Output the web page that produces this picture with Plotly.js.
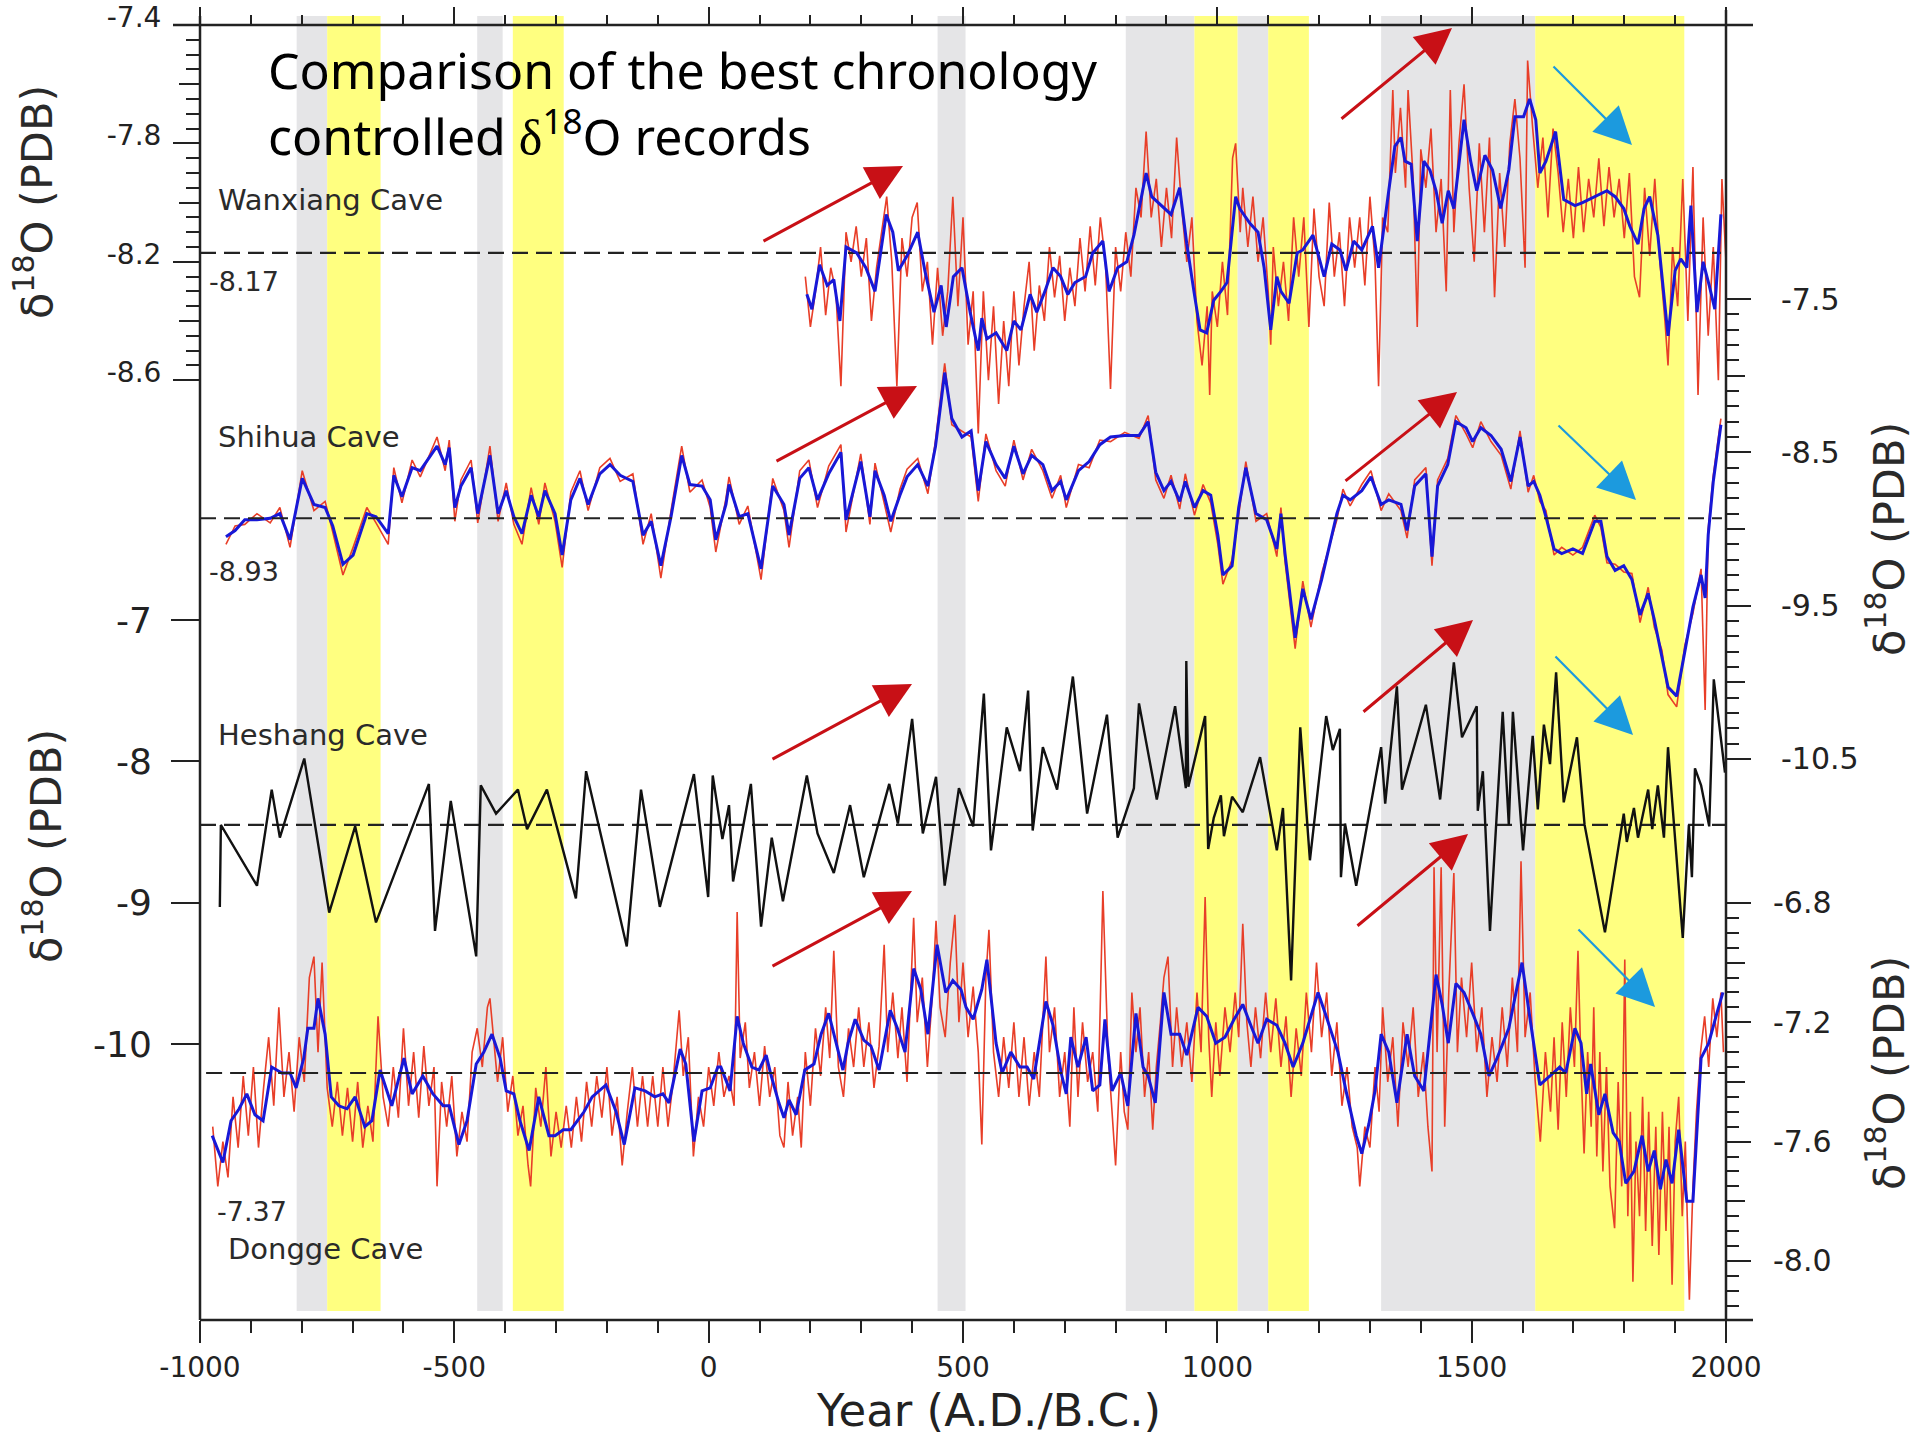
<!DOCTYPE html>
<html><head><meta charset="utf-8">
<script src="https://cdn.plot.ly/plotly-3.0.1.min.js"></script>
<style>html,body{margin:0;padding:0;background:#fff}</style>
</head><body><div id="chart" style="width:1920px;height:1440px"></div>
<script>
// ---------------- DATA ----------------
const xTickYears = [-1000,-500,0,500,1000,1500,2000];
const xTickText = ['-1000','-500','0','500','1000','1500','2000'];
const xMinorYears = [-900,-800,-700,-600,-400,-300,-200,-100,100,200,300,400,600,700,800,900,1100,1200,1300,1400,1600,1700,1800,1900];

const wanxiangTicks = [-7.4,-7.8,-8.2,-8.6];
const wanxiangMidTicks = [-7.6,-8.0,-8.4];
const wanxiangMinorTicks = [-7.45,-7.5,-7.55,-7.65,-7.7,-7.75,-7.85,-7.9,-7.95,-8.05,-8.1,-8.15,-8.25,-8.3,-8.35,-8.45,-8.5,-8.55];
const shihuaTicks = [-7.5,-8.5,-9.5,-10.5];
const shihuaMidTicks = [-8,-9,-10];
const shihuaMinorTicks = [-7.6,-7.7,-7.8,-7.9,-8.1,-8.2,-8.3,-8.4,-8.6,-8.7,-8.8,-8.9,-9.1,-9.2,-9.3,-9.4,-9.6,-9.7,-9.8,-9.9,-10.1,-10.2,-10.3,-10.4];
const heshangTicks = [-7,-8,-9,-10];
const donggeTicks = [-6.8,-7.2,-7.6,-8.0];
const donggeTickText = ['-6.8','-7.2','-7.6','-8.0'];
const donggeMidTicks = [-7.0,-7.4,-7.8];
const donggeMinorTicks = [-6.85,-6.9,-6.95,-7.05,-7.1,-7.15,-7.25,-7.3,-7.35,-7.45,-7.5,-7.55,-7.65,-7.7,-7.75,-7.85,-7.9,-7.95,-8.05,-8.1,-8.15];

// shaded periods [start year, end year, kind]
const bandPeriods = [[-810,-750,'g'],[-750,-645,'y'],[-455,-405,'g'],[-385,-285,'y'],[450,505,'g'],
  [820,955,'g'],[955,1040,'y'],[1040,1100,'g'],[1100,1180,'y'],[1322,1625,'g'],[1625,1918,'y']];

const wanxiangMean = -8.17, shihuaMean = -8.93, heshangMean = -8.45, donggeMean = -7.37;
const wanxiangMeanSpan = [-1000,1990], shihuaMeanSpan = [-1000,1992], heshangMeanSpan = [-1000,2000], donggeMeanSpan = [-988,2000];

const wanxiangBlue = [[193,-8.31],[203,-8.36],[218,-8.21],[233,-8.28],[246,-8.26],[258,-8.40],[270,-8.15],[291,-8.17],[309,-8.22],[327,-8.30],[349,-8.04],[362,-8.10],[373,-8.23],[390,-8.18],[411,-8.10],[425,-8.23],[443,-8.37],[457,-8.28],[467,-8.42],[481,-8.25],[498,-8.22],[514,-8.37],[530,-8.50],[537,-8.39],[547,-8.46],[565,-8.44],[586,-8.50],[600,-8.40],[614,-8.43],[632,-8.31],[645,-8.37],[661,-8.30],[677,-8.22],[692,-8.25],[706,-8.31],[720,-8.27],[741,-8.25],[755,-8.17],[775,-8.13],[787,-8.30],[804,-8.22],[822,-8.20],[836,-8.11],[850,-7.98],[860,-7.90],[871,-7.98],[889,-8.01],[909,-8.04],[926,-7.95],[940,-8.14],[954,-8.30],[966,-8.43],[979,-8.44],[993,-8.33],[1007,-8.30],[1019,-8.27],[1036,-7.98],[1044,-8.02],[1064,-8.07],[1080,-8.10],[1092,-8.22],[1105,-8.43],[1117,-8.25],[1125,-8.30],[1141,-8.34],[1157,-8.17],[1168,-8.16],[1188,-8.11],[1210,-8.25],[1225,-8.14],[1241,-8.16],[1253,-8.23],[1268,-8.13],[1284,-8.16],[1305,-8.08],[1317,-8.22],[1337,-7.96],[1349,-7.81],[1361,-7.78],[1369,-7.86],[1381,-7.87],[1393,-8.13],[1406,-7.86],[1418,-7.89],[1430,-7.96],[1442,-8.07],[1454,-7.96],[1465,-8.02],[1485,-7.72],[1498,-7.86],[1510,-7.96],[1526,-7.84],[1541,-7.89],[1557,-8.02],[1573,-7.89],[1585,-7.71],[1602,-7.71],[1614,-7.65],[1626,-7.72],[1634,-7.90],[1646,-7.86],[1665,-7.76],[1681,-7.99],[1703,-8.01],[1718,-8.00],[1742,-7.98],[1766,-7.96],[1782,-7.98],[1799,-8.02],[1811,-8.08],[1827,-8.14],[1839,-8.02],[1850,-7.98],[1866,-8.11],[1886,-8.45],[1900,-8.23],[1911,-8.19],[1923,-8.22],[1931,-8.01],[1943,-8.37],[1955,-8.20],[1967,-8.28],[1978,-8.36],[1990,-8.04]];

const wanxiangRed = [[190,-8.25],[200,-8.42],[210,-8.30],[220,-8.15],[230,-8.38],[240,-8.22],[250,-8.30],[260,-8.62],[270,-8.10],[280,-8.20],[290,-8.08],[300,-8.25],[310,-8.12],[320,-8.40],[330,-8.22],[340,-8.10],[350,-7.98],[360,-8.20],[370,-8.62],[380,-8.12],[390,-8.25],[400,-8.05],[410,-8.00],[420,-8.30],[430,-8.20],[440,-8.48],[450,-8.22],[460,-8.45],[470,-8.30],[480,-7.98],[490,-8.35],[500,-8.05],[510,-8.48],[520,-8.30],[530,-8.78],[540,-8.30],[550,-8.60],[560,-8.35],[570,-8.68],[580,-8.40],[590,-8.62],[600,-8.30],[610,-8.55],[620,-8.35],[630,-8.20],[640,-8.50],[650,-8.28],[660,-8.40],[670,-8.15],[680,-8.32],[690,-8.18],[700,-8.40],[710,-8.22],[720,-8.35],[730,-8.12],[740,-8.30],[750,-8.08],[760,-8.28],[770,-8.05],[780,-8.20],[790,-8.63],[800,-8.15],[810,-8.30],[820,-8.10],[830,-8.25],[840,-7.95],[850,-8.05],[860,-7.76],[870,-8.05],[880,-7.92],[890,-8.15],[900,-7.95],[910,-8.12],[920,-7.78],[930,-8.02],[940,-8.20],[950,-8.05],[960,-8.40],[970,-8.55],[980,-8.35],[985,-8.65],[990,-8.30],[1000,-8.42],[1010,-8.20],[1020,-8.38],[1030,-7.85],[1036,-7.80],[1045,-8.10],[1050,-7.95],[1060,-8.15],[1070,-7.98],[1080,-8.20],[1090,-8.05],[1100,-8.30],[1105,-8.48],[1110,-8.15],[1120,-8.35],[1130,-8.20],[1140,-8.40],[1150,-8.05],[1160,-8.25],[1170,-8.05],[1180,-8.42],[1190,-8.02],[1200,-8.25],[1210,-8.35],[1220,-8.00],[1230,-8.25],[1240,-8.10],[1250,-8.35],[1260,-8.05],[1270,-8.22],[1280,-8.05],[1290,-8.28],[1300,-7.98],[1310,-8.20],[1317,-8.62],[1325,-8.05],[1335,-8.10],[1345,-7.62],[1350,-7.90],[1360,-7.68],[1370,-7.95],[1375,-7.62],[1385,-7.92],[1393,-8.42],[1400,-7.82],[1410,-7.95],[1420,-7.75],[1430,-8.10],[1440,-7.92],[1450,-8.30],[1458,-7.62],[1465,-8.10],[1475,-7.80],[1485,-7.60],[1495,-7.95],[1505,-8.20],[1515,-7.80],[1525,-8.10],[1535,-7.78],[1545,-8.32],[1555,-7.90],[1565,-8.15],[1575,-7.80],[1585,-7.65],[1595,-7.85],[1605,-8.22],[1610,-7.52],[1620,-7.75],[1630,-7.95],[1640,-7.78],[1650,-8.05],[1660,-7.75],[1670,-7.90],[1680,-8.10],[1690,-7.92],[1700,-8.12],[1710,-7.88],[1720,-8.10],[1730,-7.92],[1740,-8.05],[1750,-7.85],[1760,-8.08],[1770,-7.88],[1780,-8.05],[1790,-7.92],[1800,-8.12],[1810,-7.90],[1820,-8.25],[1830,-8.32],[1840,-7.95],[1850,-8.18],[1860,-7.92],[1870,-8.20],[1880,-8.40],[1886,-8.55],[1895,-8.15],[1905,-8.35],[1915,-7.92],[1925,-8.40],[1935,-7.88],[1945,-8.65],[1955,-8.05],[1965,-8.45],[1975,-8.15],[1985,-8.60],[1992,-7.92],[2000,-8.20]];

const shihuaBlue = [[-949,-9.05],[-931,-9.01],[-912,-8.94],[-888,-8.94],[-862,-8.93],[-843,-8.90],[-823,-9.07],[-799,-8.67],[-776,-8.84],[-754,-8.86],[-739,-8.98],[-719,-9.23],[-699,-9.17],[-672,-8.90],[-654,-8.92],[-630,-9.03],[-619,-8.65],[-603,-8.79],[-583,-8.60],[-567,-8.62],[-534,-8.46],[-518,-8.58],[-510,-8.47],[-499,-8.86],[-487,-8.72],[-467,-8.60],[-454,-8.90],[-430,-8.52],[-414,-8.90],[-398,-8.75],[-383,-8.92],[-367,-9.03],[-349,-8.78],[-334,-8.92],[-322,-8.75],[-302,-8.90],[-288,-9.17],[-271,-8.81],[-253,-8.67],[-237,-8.84],[-214,-8.64],[-194,-8.58],[-174,-8.65],[-149,-8.69],[-129,-9.04],[-113,-8.95],[-94,-9.24],[-74,-8.92],[-53,-8.52],[-37,-8.71],[-13,-8.72],[3,-8.81],[14,-9.07],[34,-8.84],[40,-8.71],[60,-8.92],[77,-8.90],[103,-9.26],[126,-8.72],[148,-8.84],[158,-9.04],[179,-8.67],[197,-8.60],[214,-8.81],[236,-8.64],[260,-8.50],[270,-8.94],[299,-8.56],[317,-8.92],[327,-8.62],[345,-8.78],[358,-8.95],[376,-8.78],[390,-8.66],[411,-8.58],[431,-8.72],[446,-8.46],[464,-7.98],[478,-8.28],[498,-8.40],[516,-8.36],[530,-8.75],[545,-8.43],[565,-8.58],[583,-8.67],[600,-8.46],[618,-8.64],[635,-8.52],[657,-8.58],[675,-8.75],[692,-8.69],[703,-8.81],[727,-8.62],[748,-8.56],[769,-8.45],[790,-8.40],[818,-8.39],[846,-8.39],[864,-8.30],[879,-8.63],[895,-8.75],[909,-8.69],[926,-8.82],[937,-8.69],[955,-8.86],[972,-8.75],[987,-8.78],[1001,-9.04],[1011,-9.30],[1029,-9.24],[1042,-8.86],[1056,-8.60],[1070,-8.81],[1076,-8.90],[1097,-8.94],[1117,-9.13],[1125,-8.90],[1133,-9.16],[1153,-9.71],[1168,-9.39],[1184,-9.59],[1205,-9.33],[1235,-8.90],[1247,-8.78],[1261,-8.81],[1284,-8.75],[1302,-8.66],[1322,-8.84],[1337,-8.81],[1361,-8.84],[1373,-9.01],[1388,-8.72],[1410,-8.64],[1422,-9.18],[1433,-8.72],[1453,-8.58],[1469,-8.30],[1489,-8.34],[1502,-8.43],[1518,-8.34],[1538,-8.39],[1558,-8.48],[1577,-8.69],[1595,-8.40],[1611,-8.72],[1622,-8.69],[1634,-8.78],[1646,-8.92],[1662,-9.13],[1677,-9.16],[1699,-9.13],[1718,-9.16],[1742,-8.95],[1754,-8.95],[1766,-9.18],[1782,-9.27],[1799,-9.24],[1815,-9.33],[1831,-9.56],[1847,-9.42],[1859,-9.59],[1874,-9.83],[1886,-10.03],[1903,-10.09],[1919,-9.80],[1935,-9.51],[1951,-9.30],[1959,-9.45],[1965,-9.04],[1975,-8.69],[1990,-8.32]];

const shihuaRed = [[-949,-9.10],[-931,-8.98],[-912,-8.97],[-888,-8.90],[-862,-8.96],[-843,-8.86],[-823,-9.12],[-799,-8.62],[-776,-8.88],[-754,-8.82],[-739,-9.02],[-719,-9.30],[-699,-9.12],[-672,-8.86],[-654,-8.96],[-630,-9.10],[-619,-8.60],[-603,-8.83],[-583,-8.55],[-567,-8.66],[-534,-8.40],[-518,-8.62],[-510,-8.42],[-499,-8.95],[-487,-8.68],[-467,-8.55],[-454,-8.96],[-430,-8.46],[-414,-8.95],[-398,-8.70],[-383,-8.97],[-367,-9.10],[-349,-8.73],[-334,-8.97],[-322,-8.70],[-302,-8.95],[-288,-9.25],[-271,-8.76],[-253,-8.62],[-237,-8.88],[-214,-8.60],[-194,-8.54],[-174,-8.69],[-149,-8.64],[-129,-9.10],[-113,-8.90],[-94,-9.32],[-74,-8.88],[-53,-8.46],[-37,-8.76],[-13,-8.68],[3,-8.86],[14,-9.15],[34,-8.80],[40,-8.66],[60,-8.97],[77,-8.85],[103,-9.33],[126,-8.67],[148,-8.88],[158,-9.12],[179,-8.62],[197,-8.55],[214,-8.86],[236,-8.59],[260,-8.45],[270,-9.02],[299,-8.51],[317,-8.97],[327,-8.57],[345,-8.83],[358,-9.02],[376,-8.74],[390,-8.61],[411,-8.54],[431,-8.77],[446,-8.42],[464,-7.92],[478,-8.32],[498,-8.36],[516,-8.40],[530,-8.82],[545,-8.38],[565,-8.62],[583,-8.72],[600,-8.42],[618,-8.68],[635,-8.48],[657,-8.62],[675,-8.80],[692,-8.65],[703,-8.86],[727,-8.58],[748,-8.60],[769,-8.42],[790,-8.43],[818,-8.37],[846,-8.41],[864,-8.26],[879,-8.68],[895,-8.80],[909,-8.65],[926,-8.87],[937,-8.64],[955,-8.91],[972,-8.71],[987,-8.83],[1001,-9.10],[1011,-9.36],[1029,-9.20],[1042,-8.91],[1056,-8.56],[1070,-8.85],[1076,-8.95],[1097,-8.90],[1117,-9.18],[1125,-8.86],[1133,-9.21],[1153,-9.78],[1168,-9.34],[1184,-9.64],[1205,-9.29],[1235,-8.94],[1247,-8.74],[1261,-8.85],[1284,-8.71],[1302,-8.62],[1322,-8.88],[1337,-8.77],[1361,-8.88],[1373,-9.06],[1388,-8.68],[1410,-8.60],[1422,-9.24],[1433,-8.68],[1453,-8.54],[1469,-8.26],[1489,-8.38],[1502,-8.47],[1518,-8.30],[1538,-8.43],[1558,-8.52],[1577,-8.74],[1595,-8.36],[1611,-8.76],[1622,-8.65],[1634,-8.82],[1646,-8.88],[1662,-9.17],[1677,-9.12],[1699,-9.17],[1718,-9.12],[1742,-8.91],[1754,-8.99],[1766,-9.22],[1782,-9.23],[1799,-9.28],[1815,-9.29],[1831,-9.61],[1847,-9.38],[1859,-9.64],[1874,-9.79],[1886,-10.08],[1903,-10.16],[1919,-9.76],[1935,-9.55],[1951,-9.26],[1959,-10.18],[1965,-9.00],[1975,-8.65],[1990,-8.28]];

const heshang = [[-961,-9.03],[-959,-8.45],[-888,-8.88],[-859,-8.20],[-843,-8.54],[-795,-7.98],[-746,-9.07],[-695,-8.46],[-654,-9.14],[-550,-8.16],[-538,-9.20],[-507,-8.28],[-457,-9.38],[-448,-8.17],[-418,-8.37],[-375,-8.20],[-357,-8.48],[-318,-8.20],[-261,-8.97],[-241,-8.07],[-161,-9.31],[-133,-8.20],[-96,-9.03],[-29,-8.09],[-1,-8.96],[8,-8.10],[27,-8.55],[40,-8.31],[48,-8.85],[83,-8.16],[103,-9.17],[124,-8.54],[146,-8.99],[193,-8.10],[214,-8.51],[246,-8.79],[278,-8.31],[305,-8.82],[355,-8.16],[372,-8.44],[400,-7.70],[421,-8.51],[447,-8.11],[464,-8.88],[492,-8.19],[520,-8.46],[541,-7.52],[555,-8.63],[586,-7.76],[612,-8.07],[628,-7.50],[637,-8.49],[657,-7.90],[685,-8.20],[716,-7.40],[744,-8.37],[783,-7.67],[804,-8.54],[836,-8.19],[846,-7.59],[881,-8.27],[917,-7.61],[938,-8.19],[939,-7.29],[943,-8.18],[976,-7.68],[982,-8.62],[993,-8.40],[1007,-8.24],[1013,-8.53],[1029,-8.25],[1050,-8.36],[1084,-7.97],[1117,-8.63],[1129,-8.33],[1145,-9.55],[1163,-7.76],[1182,-8.70],[1214,-7.68],[1227,-7.92],[1241,-7.77],[1243,-8.82],[1251,-8.44],[1273,-8.88],[1322,-7.90],[1330,-8.30],[1353,-7.47],[1363,-8.20],[1410,-7.60],[1438,-8.27],[1465,-7.30],[1481,-7.83],[1510,-7.61],[1512,-8.35],[1522,-8.07],[1536,-9.20],[1561,-7.65],[1573,-8.45],[1581,-7.65],[1601,-8.63],[1620,-7.82],[1630,-8.34],[1642,-7.74],[1654,-8.02],[1666,-7.37],[1681,-8.29],[1707,-7.83],[1722,-8.45],[1762,-9.21],[1799,-8.37],[1805,-8.57],[1819,-8.33],[1827,-8.54],[1847,-8.20],[1855,-8.48],[1866,-8.17],[1878,-8.54],[1886,-7.90],[1915,-9.25],[1927,-8.45],[1933,-8.82],[1939,-8.05],[1951,-8.17],[1967,-8.46],[1976,-7.42],[1998,-8.08]];

const donggeBlue = [[-976,-7.58],[-963,-7.64],[-955,-7.67],[-939,-7.53],[-923,-7.49],[-908,-7.44],[-892,-7.51],[-876,-7.53],[-859,-7.35],[-839,-7.37],[-823,-7.37],[-811,-7.42],[-796,-7.32],[-788,-7.22],[-776,-7.22],[-768,-7.12],[-754,-7.24],[-742,-7.45],[-727,-7.48],[-711,-7.49],[-695,-7.45],[-676,-7.55],[-662,-7.53],[-646,-7.36],[-623,-7.48],[-599,-7.32],[-583,-7.44],[-562,-7.38],[-542,-7.44],[-522,-7.48],[-510,-7.48],[-491,-7.61],[-475,-7.53],[-457,-7.34],[-442,-7.30],[-426,-7.24],[-410,-7.32],[-398,-7.43],[-383,-7.44],[-371,-7.53],[-353,-7.63],[-334,-7.45],[-314,-7.58],[-302,-7.58],[-286,-7.56],[-271,-7.56],[-245,-7.50],[-229,-7.45],[-202,-7.41],[-182,-7.50],[-166,-7.61],[-145,-7.42],[-125,-7.43],[-106,-7.45],[-90,-7.44],[-78,-7.47],[-56,-7.29],[-45,-7.34],[-29,-7.60],[-13,-7.43],[3,-7.42],[18,-7.35],[24,-7.35],[42,-7.43],[56,-7.18],[68,-7.27],[85,-7.35],[99,-7.36],[113,-7.31],[123,-7.38],[138,-7.47],[148,-7.52],[158,-7.46],[172,-7.51],[189,-7.36],[207,-7.34],[221,-7.24],[236,-7.17],[246,-7.24],[264,-7.36],[274,-7.27],[288,-7.19],[305,-7.26],[319,-7.28],[335,-7.36],[348,-7.24],[357,-7.16],[371,-7.22],[386,-7.30],[403,-7.02],[417,-7.09],[431,-7.24],[449,-6.94],[466,-7.10],[480,-7.06],[496,-7.09],[506,-7.15],[520,-7.19],[537,-7.09],[547,-6.99],[565,-7.27],[577,-7.37],[594,-7.30],[612,-7.35],[626,-7.35],[639,-7.39],[663,-7.13],[677,-7.21],[693,-7.37],[703,-7.44],[712,-7.25],[726,-7.35],[742,-7.25],[755,-7.43],[769,-7.41],[779,-7.19],[793,-7.43],[810,-7.37],[824,-7.48],[840,-7.17],[854,-7.35],[864,-7.38],[878,-7.47],[895,-7.10],[909,-7.24],[926,-7.24],[940,-7.31],[962,-7.15],[979,-7.18],[997,-7.27],[1015,-7.25],[1033,-7.19],[1050,-7.14],[1068,-7.22],[1080,-7.27],[1097,-7.19],[1117,-7.21],[1133,-7.27],[1149,-7.35],[1168,-7.27],[1184,-7.18],[1198,-7.10],[1214,-7.18],[1225,-7.24],[1237,-7.30],[1253,-7.43],[1273,-7.58],[1284,-7.64],[1298,-7.54],[1310,-7.43],[1322,-7.24],[1337,-7.30],[1353,-7.47],[1373,-7.24],[1388,-7.38],[1406,-7.43],[1430,-7.04],[1442,-7.14],[1454,-7.27],[1469,-7.07],[1485,-7.10],[1502,-7.17],[1518,-7.24],[1534,-7.38],[1550,-7.32],[1573,-7.22],[1599,-7.00],[1614,-7.18],[1634,-7.41],[1654,-7.38],[1673,-7.35],[1685,-7.37],[1703,-7.22],[1715,-7.27],[1726,-7.44],[1734,-7.34],[1750,-7.51],[1762,-7.44],[1778,-7.57],[1790,-7.60],[1803,-7.74],[1819,-7.70],[1835,-7.58],[1847,-7.70],[1859,-7.63],[1871,-7.76],[1882,-7.66],[1894,-7.74],[1907,-7.56],[1923,-7.80],[1935,-7.80],[1951,-7.32],[1966,-7.27],[1982,-7.17],[1994,-7.10]];

const donggeRed = [[-975,-7.55],[-965,-7.75],[-955,-7.60],[-945,-7.72],[-935,-7.45],[-925,-7.62],[-915,-7.38],[-905,-7.58],[-895,-7.35],[-885,-7.62],[-875,-7.42],[-865,-7.25],[-855,-7.48],[-845,-7.15],[-835,-7.45],[-825,-7.30],[-815,-7.50],[-805,-7.25],[-795,-7.40],[-785,-7.05],[-776,-6.98],[-768,-7.30],[-760,-7.00],[-750,-7.42],[-740,-7.55],[-730,-7.40],[-720,-7.58],[-710,-7.42],[-700,-7.60],[-690,-7.40],[-680,-7.62],[-670,-7.48],[-660,-7.60],[-650,-7.18],[-640,-7.45],[-630,-7.55],[-620,-7.35],[-610,-7.52],[-600,-7.22],[-590,-7.48],[-580,-7.30],[-570,-7.52],[-560,-7.28],[-550,-7.48],[-540,-7.35],[-534,-7.75],[-525,-7.40],[-515,-7.55],[-505,-7.38],[-495,-7.65],[-485,-7.50],[-475,-7.60],[-465,-7.30],[-455,-7.22],[-445,-7.35],[-435,-7.15],[-430,-7.12],[-415,-7.40],[-405,-7.25],[-395,-7.50],[-385,-7.38],[-375,-7.58],[-365,-7.48],[-355,-7.68],[-350,-7.75],[-340,-7.42],[-330,-7.55],[-320,-7.35],[-310,-7.65],[-300,-7.50],[-290,-7.62],[-280,-7.48],[-270,-7.62],[-260,-7.45],[-250,-7.60],[-240,-7.40],[-230,-7.55],[-220,-7.38],[-210,-7.52],[-200,-7.35],[-190,-7.58],[-180,-7.45],[-170,-7.68],[-160,-7.50],[-150,-7.35],[-140,-7.55],[-130,-7.38],[-120,-7.55],[-110,-7.38],[-100,-7.55],[-90,-7.35],[-80,-7.55],[-70,-7.40],[-58,-7.16],[-50,-7.38],[-40,-7.25],[-30,-7.65],[-20,-7.45],[-10,-7.55],[0,-7.35],[10,-7.48],[20,-7.30],[30,-7.45],[40,-7.38],[50,-7.48],[56,-6.83],[62,-7.32],[72,-7.20],[80,-7.42],[90,-7.30],[100,-7.48],[110,-7.28],[120,-7.45],[130,-7.35],[140,-7.58],[148,-7.62],[156,-7.40],[165,-7.58],[175,-7.45],[182,-7.62],[190,-7.30],[200,-7.48],[210,-7.22],[220,-7.38],[230,-7.15],[238,-7.32],[246,-6.96],[255,-7.35],[265,-7.45],[275,-7.22],[285,-7.35],[295,-7.15],[305,-7.35],[315,-7.20],[325,-7.42],[335,-7.28],[345,-6.94],[352,-7.30],[362,-7.10],[372,-7.32],[380,-7.15],[390,-7.40],[403,-6.85],[410,-7.20],[420,-7.05],[430,-7.35],[440,-7.10],[447,-6.86],[455,-7.15],[465,-7.25],[475,-7.00],[484,-6.84],[492,-7.20],[500,-7.00],[510,-7.25],[520,-7.08],[530,-7.30],[537,-7.61],[545,-7.05],[551,-6.89],[560,-7.30],[570,-7.45],[580,-7.25],[590,-7.42],[600,-7.20],[610,-7.45],[620,-7.25],[630,-7.48],[640,-7.30],[650,-7.45],[663,-6.98],[670,-7.30],[680,-7.15],[690,-7.45],[700,-7.30],[710,-7.55],[718,-7.15],[726,-7.45],[735,-7.20],[745,-7.40],[755,-7.30],[765,-7.50],[775,-6.76],[785,-7.30],[793,-7.50],[800,-7.68],[810,-7.30],[817,-7.50],[824,-7.56],[832,-7.10],[840,-7.30],[848,-7.15],[857,-7.45],[865,-7.30],[873,-7.56],[880,-7.35],[888,-7.20],[895,-7.05],[903,-6.98],[912,-7.35],[920,-7.15],[930,-7.35],[940,-7.20],[950,-7.40],[960,-7.10],[968,-7.30],[976,-6.78],[983,-7.25],[989,-7.45],[997,-7.20],[1005,-7.38],[1015,-7.15],[1025,-7.30],[1035,-7.10],[1042,-7.25],[1050,-6.87],[1058,-7.20],[1066,-7.35],[1075,-7.15],[1085,-7.32],[1095,-7.10],[1105,-7.30],[1115,-7.12],[1125,-7.35],[1135,-7.18],[1145,-7.45],[1155,-7.22],[1165,-7.38],[1175,-7.10],[1185,-7.30],[1195,-7.00],[1205,-7.25],[1215,-7.10],[1225,-7.38],[1235,-7.20],[1245,-7.48],[1255,-7.35],[1265,-7.55],[1275,-7.62],[1280,-7.75],[1290,-7.55],[1300,-7.62],[1310,-7.35],[1318,-7.50],[1325,-7.15],[1335,-7.40],[1345,-7.25],[1355,-7.55],[1365,-7.20],[1375,-7.35],[1385,-7.15],[1395,-7.45],[1405,-7.30],[1414,-7.55],[1422,-7.70],[1426,-6.68],[1432,-7.30],[1440,-6.68],[1447,-7.55],[1455,-7.10],[1465,-6.70],[1472,-7.30],[1480,-7.05],[1490,-7.25],[1500,-7.00],[1510,-7.30],[1520,-7.15],[1530,-7.45],[1540,-7.25],[1550,-7.40],[1560,-7.15],[1570,-7.35],[1580,-7.05],[1590,-7.30],[1597,-6.66],[1605,-7.25],[1615,-7.10],[1625,-7.40],[1635,-7.60],[1645,-7.30],[1655,-7.50],[1662,-7.25],[1670,-7.56],[1678,-7.20],[1686,-7.45],[1694,-7.15],[1702,-7.35],[1709,-6.96],[1715,-7.35],[1721,-7.64],[1728,-7.30],[1735,-7.55],[1740,-7.15],[1746,-7.65],[1752,-7.30],[1758,-7.70],[1765,-7.35],[1772,-7.75],[1781,-7.89],[1788,-7.40],[1795,-7.75],[1801,-6.99],[1807,-7.85],[1812,-7.50],[1817,-8.07],[1823,-7.60],[1830,-7.85],[1836,-7.45],[1842,-7.90],[1848,-7.50],[1855,-7.95],[1862,-7.55],[1868,-7.98],[1875,-7.50],[1882,-7.90],[1888,-7.55],[1894,-8.08],[1900,-7.60],[1907,-7.45],[1914,-7.85],[1920,-7.60],[1928,-8.13],[1935,-7.75],[1942,-7.50],[1950,-7.30],[1958,-7.18],[1966,-7.35],[1974,-7.12],[1982,-7.25],[1990,-7.10],[1995,-7.30]];

// ---------------- DRAWING ----------------
const L = 200, R = 1726, T = 25, B = 1320;            // plot frame in page pixels
const px = x => (x - L) / (R - L);
const py = y => (B - y) / (B - T);
const xs = a => a.map(p => p[0]);
const ys = a => a.map(p => p[1]);

const RED = 'rgb(232,62,40)', BLUE = 'rgb(24,24,215)', DASH = '#222';
const tickFont = {family:'DejaVu Sans', size:28, color:'#222'};

function meanTrace(span, mean, yaxis){
  return {type:'scatter', mode:'lines', x: span, y:[mean, mean], yaxis: yaxis,
    line:{color:DASH, width:2.2, dash:'16px,8px'}, hoverinfo:'skip'};
}
const traces = [
  meanTrace(wanxiangMeanSpan, wanxiangMean, 'y5'),
  meanTrace(shihuaMeanSpan, shihuaMean, 'y6'),
  meanTrace(heshangMeanSpan, heshangMean, 'y3'),
  meanTrace(donggeMeanSpan, donggeMean, 'y7'),
  {type:'scatter', mode:'lines', x:xs(wanxiangRed), y:ys(wanxiangRed), yaxis:'y', line:{color:RED, width:1.6}},
  {type:'scatter', mode:'lines', x:xs(wanxiangBlue), y:ys(wanxiangBlue), xaxis:'x2', yaxis:'y', line:{color:BLUE, width:3}},
  {type:'scatter', mode:'lines', x:xs(shihuaRed), y:ys(shihuaRed), yaxis:'y2', line:{color:RED, width:1.6}},
  {type:'scatter', mode:'lines', x:xs(shihuaBlue), y:ys(shihuaBlue), yaxis:'y2', line:{color:BLUE, width:3}},
  {type:'scatter', mode:'lines', x:xs(heshang), y:ys(heshang), yaxis:'y3', line:{color:'#111', width:2.4}},
  {type:'scatter', mode:'lines', x:xs(donggeRed), y:ys(donggeRed), yaxis:'y4', line:{color:RED, width:1.6}},
  {type:'scatter', mode:'lines', x:xs(donggeBlue), y:ys(donggeBlue), yaxis:'y4', line:{color:BLUE, width:3}}
];

function yAxis(o){
  return Object.assign({anchor:'x', showgrid:false, zeroline:false, showline:false, fixedrange:true, ticklabeloverflow:'allow',
    ticks:'outside', tickwidth:2, tickcolor:'#222', tickmode:'array', tickfont:tickFont}, o);
}
const minorOf = (vals, len) => ({tickmode:'array', tickvals:vals, ticks:'outside', ticklen:len, tickwidth:2, tickcolor:'#222', showgrid:false});

const shapes = bandPeriods.map(b => ({type:'rect', xref:'x', yref:'paper', x0:b[0], x1:b[1], y0:py(1311), y1:py(16),
  fillcolor: b[2]==='g' ? 'rgb(229,229,231)' : 'rgb(255,255,128)', line:{width:0}, layer:'below'}));
// frame lines (extending slightly past the corners as in the original)
const frameLine = (x0,y0,x1,y1) => ({type:'line', xref:'paper', yref:'paper', x0:px(x0), y0:py(y0), x1:px(x1), y1:py(y1), line:{color:'#222', width:2.5}, layer:'above'});
shapes.push(frameLine(173, T, 1753, T));
shapes.push(frameLine(L, B, 1753, B));
shapes.push(frameLine(L, 16, L, B));
shapes.push(frameLine(R, 10, R, B));

const annotations = [];
function label(text, x, y, size, opts){
  annotations.push(Object.assign({text:text, xref:'paper', yref:'paper', x:px(x), y:py(y), xanchor:'left', yanchor:'middle',
    showarrow:false, font:{family:'DejaVu Sans', size:size, color:'#2a2a2a'}}, opts||{}));
}
label('Wanxiang Cave', 216, 200, 29);
label('-8.17', 207, 281, 27);
label('Shihua Cave', 216, 437, 29);
label('-8.93', 207, 571, 27);
label('Heshang Cave', 216, 735, 29);
label('-7.37', 215, 1211, 27);
label('Dongge Cave', 226, 1249, 29);
const titleFont = {family:'Noto Sans', size:50, color:'#000'};
label('Comparison of the best chronology', 266, 70, 50, {font:titleFont});
label('controlled <span style="font-family:\'Liberation Serif\'">δ</span><sup>18</sup>O records', 266, 134, 50, {font:titleFont});
const yTitle = 'δ<sup>18</sup>O (PDB)';
[[34,202],[43,846],[1886,539],[1886,1073]].forEach(p => label(yTitle, p[0], p[1], 43, {xanchor:'center', textangle:-90}));
// x-axis title
label('Year (A.D./B.C.)', 988, 1410, 45, {xanchor:'center', font:{family:'DejaVu Sans', size:45, color:'#222'}});

function arrow(tail, head, color, width, size){
  annotations.push({xref:'paper', yref:'paper', x:px(head[0]), y:py(head[1]), ax:tail[0]-head[0], ay:tail[1]-head[1],
    showarrow:true, arrowhead:2, arrowsize:size, arrowwidth:width, arrowcolor:color, text:''});
}
const redArrow = 'rgb(200,16,22)', blueArrow = 'rgb(28,154,222)';
[[[762,242],[903,166]],[[1340,120],[1452,28]],[[775,462],[917,386]],[[1344,482],[1457,392]],
 [[771,760],[912,684]],[[1362,713],[1473,620]],[[771,967],[912,891]],[[1356,927],[1468,834]]]
 .forEach(a => arrow(a[0], a[1], redArrow, 3, 2.4));
[[[1552,65],[1632,145]],[[1557,424],[1636,500]],[[1554,655],[1633,735]],[[1577,928],[1655,1007]]]
 .forEach(a => arrow(a[0], a[1], blueArrow, 2.2, 3.4));

const layout = {
  width:1920, height:1440, margin:{l:L, r:1920-R, t:T, b:1440-B},
  paper_bgcolor:'#fff', plot_bgcolor:'#fff', showlegend:false, hovermode:false,
  xaxis:{range:[-1000,2000], tickmode:'array', tickvals:xTickYears, ticktext:xTickText, ticks:'outside', ticklen:22, tickwidth:2, tickcolor:'#222',
    showgrid:false, zeroline:false, showline:false, tickfont:tickFont, minor:minorOf(xMinorYears, 12), automargin:false},
  xaxis2:{overlaying:'x', side:'top', anchor:'y', range:[-1000,2000], tickmode:'array', tickvals:xTickYears, ticks:'outside',
    ticklen:17, tickwidth:2, tickcolor:'#222', showticklabels:false, showgrid:false, zeroline:false, showline:false,
    minor:minorOf(xMinorYears, 9)},
  yaxis: yAxis({side:'left', range:[-11.775,-7.4], tickvals:wanxiangTicks, ticktext:['-7.4','-7.8','-8.2','-8.6'], ticklen:26,
    minor:minorOf(wanxiangMinorTicks, 13), ticklabelstandoff:6, ticklabelshift:-8}),
  yaxis5: yAxis({side:'left', overlaying:'y', range:[-11.775,-7.4], tickvals:wanxiangMidTicks, ticklen:20, showticklabels:false}),
  yaxis2: yAxis({side:'right', overlaying:'y', range:[-14.159,-5.713], tickvals:shihuaTicks, ticktext:['-7.5','-8.5','-9.5','-10.5'],
    ticklen:24, minor:minorOf(shihuaMinorTicks, 12), ticklabelstandoff:24, tickfont:{family:'DejaVu Sans', size:30, color:'#222'}}),
  yaxis6: yAxis({side:'right', overlaying:'y', range:[-14.159,-5.713], tickvals:shihuaMidTicks, ticklen:18, showticklabels:false}),
  yaxis3: yAxis({side:'left', overlaying:'y', range:[-11.953,-2.790], tickvals:heshangTicks, ticktext:['-7','-8','-9','-10'], ticklen:28,
    ticklabelstandoff:12, tickfont:{family:'DejaVu Sans', size:36, color:'#222'}}),
  yaxis4: yAxis({side:'right', overlaying:'y', range:[-8.198,-3.857], tickvals:donggeTicks, ticktext:donggeTickText, ticklen:24,
    minor:minorOf(donggeMinorTicks, 12), ticklabelstandoff:16, tickfont:{family:'DejaVu Sans', size:30, color:'#222'}}),
  yaxis7: yAxis({side:'right', overlaying:'y', range:[-8.198,-3.857], tickvals:donggeMidTicks, ticklen:18, showticklabels:false}),
  shapes: shapes,
  annotations: annotations
};

Plotly.newPlot('chart', traces, layout, {staticPlot:true, displayModeBar:false});
</script>
</body></html>
